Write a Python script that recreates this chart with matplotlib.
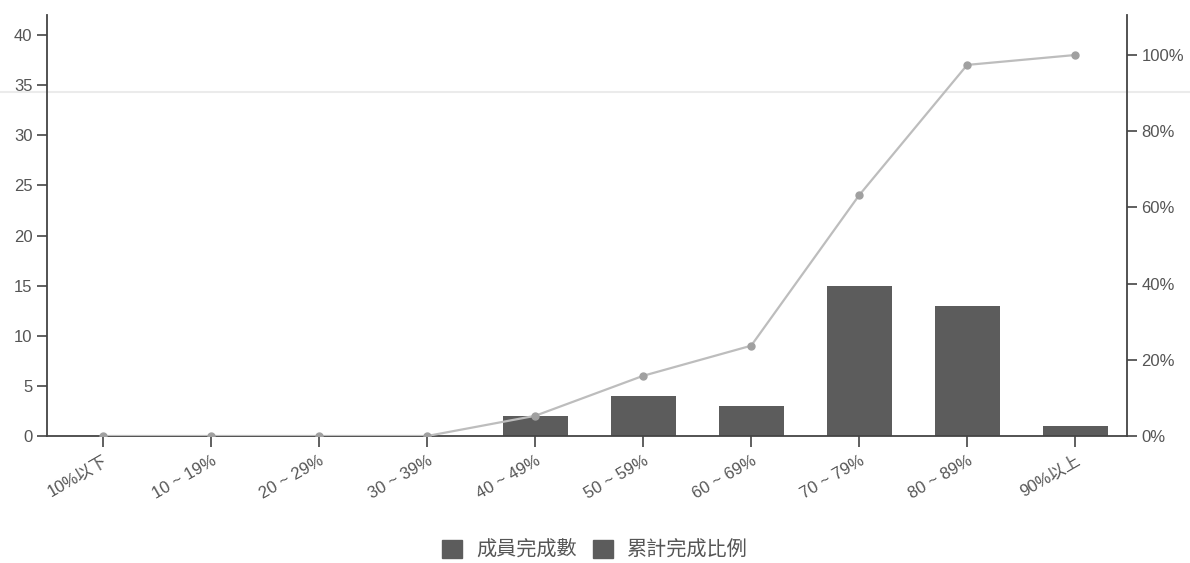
import matplotlib
matplotlib.use("Agg")
import matplotlib.pyplot as plt
from matplotlib.lines import Line2D
from matplotlib.patches import Patch
import numpy as np

plt.rcParams['font.family'] = ['Liberation Sans', 'Noto Sans CJK TC', 'DejaVu Sans']

categories = ["10%以下", "10 ~ 19%", "20 ~ 29%", "30 ~ 39%", "40 ~ 49%",
              "50 ~ 59%", "60 ~ 69%", "70 ~ 79%", "80 ~ 89%", "90%以上"]
counts = [0, 0, 0, 0, 2, 4, 3, 15, 13, 1]
cum_ratio = [0, 0, 0, 0, 5.3, 15.8, 23.7, 63.2, 97.4, 100]
left_ticks = [0, 5, 10, 15, 20, 25, 30, 35, 40]
right_ticks = [0, 20, 40, 60, 80, 100]
series_names = ["成員完成數", "累計完成比例"]

bar_color = "#5c5c5c"
line_color = "#bdbdbd"
marker_color = "#a0a0a0"
axis_color = "#444444"
text_color = "#555555"

fig = plt.figure(figsize=(11.9, 5.63), dpi=100)

# faint horizontal line across the figure (behind the axes)
fig.add_artist(Line2D([0, 1], [1-92/563, 1-92/563], transform=fig.transFigure,
                      color="#ebebeb", lw=1.5, zorder=-5))

ax = fig.add_axes([47/1190, 1-436/563, (1127-47)/1190, (436-15)/563])
ax2 = ax.twinx()
ax.patch.set_visible(False)

x = np.arange(len(categories))
ax.bar(x, counts, width=0.6, color=bar_color, zorder=2)
ax2.plot(x, cum_ratio, color=line_color, lw=1.6, marker='o', markersize=5,
         markerfacecolor=marker_color, markeredgecolor=marker_color, zorder=3)

ax.set_xlim(-0.52, 9.48)
ax.set_ylim(0, 42)
ax2.set_ylim(0, 110.5)
ax.set_yticks(left_ticks)
ax2.set_yticks(right_ticks)
ax2.set_yticklabels([f"{v}%" for v in right_ticks])
ax.set_xticks(x)
ax.set_xticklabels(categories, rotation=30, ha='right', rotation_mode='anchor')

for a in (ax, ax2):
    a.spines['top'].set_visible(False)
    a.tick_params(colors=axis_color, labelcolor=text_color, labelsize=12, width=1.2, length=7)
ax.spines['right'].set_visible(False)
ax2.spines['left'].set_visible(False)
ax2.spines['bottom'].set_visible(False)
ax.spines['left'].set_color(axis_color)
ax.spines['bottom'].set_color(axis_color)
ax2.spines['right'].set_color(axis_color)
ax.spines['left'].set_linewidth(1.3)
ax.spines['bottom'].set_linewidth(1.3)
ax2.spines['right'].set_linewidth(1.3)
ax.tick_params(axis='x', length=8, pad=4)
ax.set_axisbelow(True)
ax.set_zorder(1)
ax2.set_zorder(2)
ax2.patch.set_visible(False)

handles = [Patch(color=bar_color), Patch(color=bar_color)]
fig.legend(handles, series_names, loc='center', bbox_to_anchor=(0.5, 1-550/563),
           ncol=2, frameon=False, fontsize=14.5, handlelength=1.0, handleheight=1.0,
           columnspacing=0.8, handletextpad=0.7, labelcolor=text_color)

fig.savefig("out.png", dpi=100)
